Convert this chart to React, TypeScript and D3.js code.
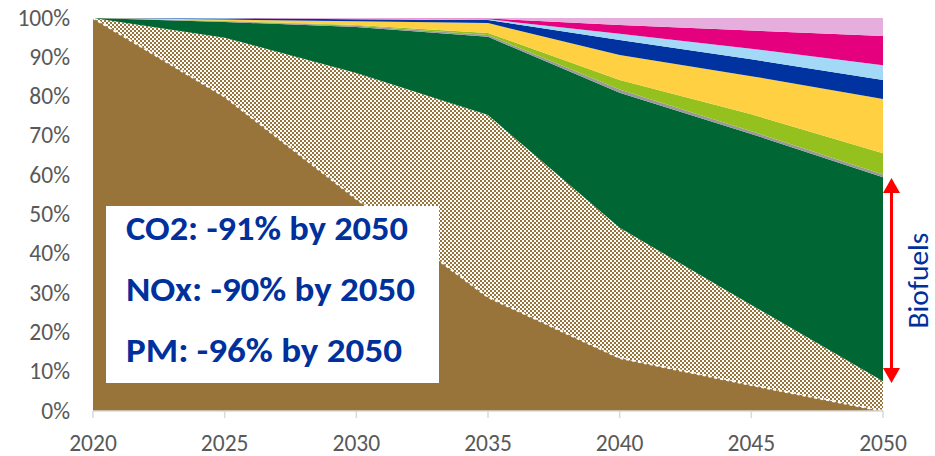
import React from "react";
import * as d3 from "d3";

const years = [2020, 2025, 2030, 2035, 2040, 2045, 2050];
const conventional = [100, 80, 54, 29, 13.5, 6.6, 0];
const hybrid = [0, 15, 32, 46.3, 33.1, 20.4, 7.6];
const biofuels = [0, 4, 11.7, 19.9, 34.4, 43.5, 51.9];
const grey = [0, 0.2, 0.3, 0.5, 0.8, 0.7, 0.7];
const limeGreen = [0, 0.1, 0.2, 0.5, 2.4, 4.3, 5.4];
const yellow = [0, 0.3, 1, 2.5, 6.4, 9.7, 13.8];
const navy = [0, 0.3, 0.5, 0.8, 3.8, 4.3, 4.8];
const lightBlue = [0, 0.1, 0.1, 0.2, 1.6, 2.7, 3.8];
const magenta = [0, 0, 0.1, 0.2, 2.2, 4.6, 7.4];
const pink = [0, 0, 0.1, 0.1, 1.8, 3.2, 4.6];

const yTicks = [0, 10, 20, 30, 40, 50, 60, 70, 80, 90, 100];
const xTicks = [2020, 2025, 2030, 2035, 2040, 2045, 2050];
const boxLines = ["CO2: -91% by 2050", "NOx: -90% by 2050", "PM: -96% by 2050"];
const boxWidths = [282, 289, 276];
const arrowLabel = "Biofuels";
const arrowRange = [7.1, 59.3];

const seriesKeys = ["conventional", "hybrid", "biofuels", "grey", "limeGreen", "yellow", "navy", "lightBlue", "magenta", "pink"];
const seriesData: Record<string, number[]> = { conventional, hybrid, biofuels, grey, limeGreen, yellow, navy, lightBlue, magenta, pink };
const colors: Record<string, string> = {
  conventional: "#99743A",
  hybrid: "url(#checker)",
  biofuels: "#006633",
  grey: "#999999",
  limeGreen: "#95C11F",
  yellow: "#FFD042",
  navy: "#0033A0",
  lightBlue: "#A3D9F7",
  magenta: "#E5007E",
  pink: "#E6AEDD",
};

export default function App() {
  const W = 935, H = 456;
  const x = d3.scaleLinear().domain([2020, 2050]).range([93, 883]);
  const y = d3.scaleLinear().domain([0, 100]).range([411, 18]);
  const table = years.map((yr, i) => {
    const row: any = { year: yr };
    seriesKeys.forEach((k) => (row[k] = seriesData[k][i]));
    return row;
  });
  const stacked = d3.stack().keys(seriesKeys)(table as any);
  const area = d3
    .area<any>()
    .x((d) => x(d.data.year))
    .y0((d) => y(d[0]))
    .y1((d) => y(d[1]));
  const topLine = d3
    .line<any>()
    .x((d) => x(d.data.year))
    .y((d) => y(d[1]));
  const font = "Carlito, Calibri, 'Liberation Sans', Arial, sans-serif";
  const ax = 891.5;
  const aTop = y(arrowRange[1]);
  const aBot = y(arrowRange[0]);
  return (
    <svg width={W} height={H} style={{ position: "absolute", left: 0, top: 0, background: "#fff" }}>
      <defs>
        <pattern id="checker" width={4} height={4} patternUnits="userSpaceOnUse">
          <rect width={4} height={4} fill="#ffffff" />
          <rect x={0} y={0} width={2} height={2} fill="#99743A" />
          <rect x={2} y={2} width={2} height={2} fill="#99743A" />
        </pattern>
      </defs>
      {stacked.map((s) => (
        <path key={s.key} d={area(s as any) || ""} fill={colors[s.key]} />
      ))}
      <path
        d={topLine(stacked[0] as any) || ""}
        fill="none"
        stroke="#fff"
        strokeWidth={2}
        strokeDasharray="3,3"
      />
      <line x1={x(2020)} x2={x(2050)} y1={y(0)} y2={y(0)} stroke="#d9d9d9" strokeWidth={1.5} />
      {xTicks.map((t) => (
        <g key={t}>
          <line x1={x(t)} x2={x(t)} y1={y(0)} y2={y(0) + 7} stroke="#d9d9d9" strokeWidth={1.5} />
          <text x={x(t)} y={451} textAnchor="middle" fontSize={23.5} fill="#595959" fontFamily={font}>
            {t}
          </text>
        </g>
      ))}
      {yTicks.map((t) => (
        <text key={t} x={70} y={y(t) + 7.5} textAnchor="end" fontSize={23.5} fill="#595959" fontFamily={font}>
          {t}%
        </text>
      ))}
      <rect x={106} y={206} width={333} height={177} fill="#fff" />
      {boxLines.map((l, i) => (
        <text
          key={l}
          x={126}
          y={240 + i * 61}
          fontSize={34}
          fontWeight="bold"
          fill="#00309C"
          fontFamily={font}
          textLength={boxWidths[i]}
          lengthAdjust="spacingAndGlyphs"
        >
          {l}
        </text>
      ))}
      <line x1={ax} x2={ax} y1={aTop + 12} y2={aBot - 12} stroke="#FF0000" strokeWidth={3} />
      <path d={`M${ax},${aTop} L${ax - 8.5},${aTop + 15} L${ax + 8.5},${aTop + 15} Z`} fill="#FF0000" />
      <path d={`M${ax},${aBot} L${ax - 8.5},${aBot - 15} L${ax + 8.5},${aBot - 15} Z`} fill="#FF0000" />
      <text
        transform={`translate(928,${(aTop + aBot) / 2}) rotate(-90)`}
        textAnchor="middle"
        fontSize={29.5}
        fill="#00309C"
        fontFamily={font}
      >
        {arrowLabel}
      </text>
    </svg>
  );
}
